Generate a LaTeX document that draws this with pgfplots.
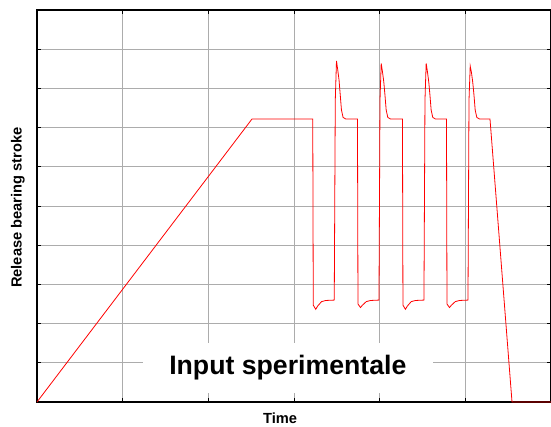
\documentclass[border=0pt]{standalone}
\usepackage{pgfplots}
\pgfplotsset{compat=1.18}
\usepackage{fontspec}
\setmainfont{Liberation Sans}
\begin{document}
\begin{tikzpicture}
\begin{axis}[
  scale only axis,
  width=385.5pt, height=294pt,
  xmin=0, xmax=6, ymin=0, ymax=10,
  xtick={0,...,6}, ytick={0,...,10},
  xticklabels={}, yticklabels={},
  tick align=inside,
  major tick length=3pt,
  tick style={black, line width=0.6pt},
  grid=major,
  major grid style={gray!65, line width=0.6pt},
  axis line style={black, line width=1.3pt},
  xlabel={\bfseries Time},
  ylabel={\bfseries Release bearing stroke},
  label style={font=\fontsize{11}{13}\selectfont},
  xlabel style={at={(axis description cs:0.473,-0.041)}, anchor=center},
  ylabel style={at={(axis description cs:-0.037,0.496)}, anchor=center, rotate=0},
]
\addplot[red, line width=0.6pt] coordinates {
  (0,0) (2.51,7.22) (3.219,7.22)
  % pulse 1
  (3.225,2.47) (3.254,2.365) (3.277,2.45) (3.321,2.56) (3.371,2.59) (3.470,2.60)
  (3.482,7.70) (3.496,8.70) (3.511,8.47) (3.526,8.21) (3.540,7.83) (3.554,7.45)
  (3.573,7.26) (3.604,7.22) (3.741,7.22)
  % pulse 2
  (3.747,2.50) (3.776,2.41) (3.799,2.47) (3.843,2.56) (3.893,2.59) (3.992,2.60)
  (4.004,7.70) (4.018,8.64) (4.033,8.42) (4.048,8.17) (4.062,7.83) (4.076,7.45)
  (4.095,7.26) (4.126,7.22) (4.266,7.22)
  % pulse 3
  (4.272,2.47) (4.301,2.365) (4.324,2.45) (4.368,2.56) (4.418,2.59) (4.517,2.60)
  (4.529,7.70) (4.543,8.64) (4.558,8.42) (4.573,8.17) (4.587,7.83) (4.601,7.45)
  (4.620,7.26) (4.651,7.22) (4.780,7.22)
  % pulse 4
  (4.786,2.50) (4.815,2.41) (4.838,2.47) (4.882,2.56) (4.932,2.59) (5.031,2.60)
  (5.043,7.70) (5.057,8.57) (5.072,8.40) (5.087,8.15) (5.101,7.83) (5.115,7.45)
  (5.134,7.26) (5.165,7.22) (5.288,7.22)
  % release
  (5.545,0) (6,0)
};
\node[fill=white, minimum width=217.5pt, minimum height=37.5pt, inner sep=0pt,
  font=\fontsize{20}{24}\selectfont\bfseries]
  at (rel axis cs:0.488,0.087) {Input sperimentale};
\end{axis}
\pgfresetboundingbox
\useasboundingbox (-27.75pt,-18pt) rectangle (385.5pt,301.5pt);
\end{tikzpicture}
\end{document}
